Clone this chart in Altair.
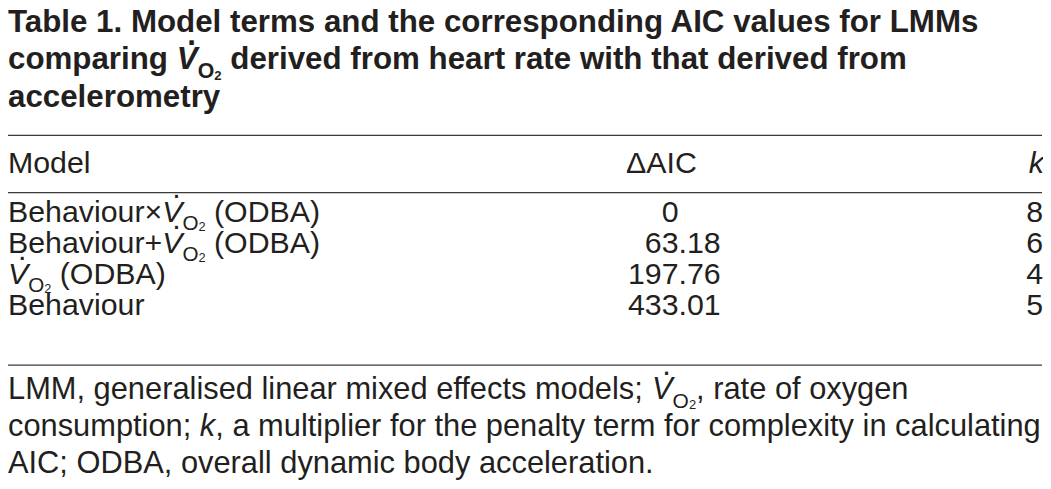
import re
import altair as alt
import pandas as pd

# ---------------- content ----------------
title_lines = [
    "Table 1. Model terms and the corresponding AIC values for LMMs",
    "comparing {VO2} derived from heart rate with that derived from",
    "accelerometry",
]
col_headers = ["Model", "ΔAIC", "{k}"]
models = [
    "Behaviour×{VO2} (ODBA)",
    "Behaviour+{VO2} (ODBA)",
    "{VO2} (ODBA)",
    "Behaviour",
]
delta_aic = [0, 63.18, 197.76, 433.01]
k_values = [8, 6, 4, 5]
footnote_lines = [
    "LMM, generalised linear mixed effects models; {VO2}, rate of oxygen",
    "consumption; {k}, a multiplier for the penalty term for complexity in calculating",
    "AIC; ODBA, overall dynamic body acceleration.",
]

# ---------------- layout (reference pixel space) ----------------
FONT = "Liberation Sans"
INK = "#231f20"
W, H = 1041, 473
X0, Y0 = 1.0, 1.0
SX = (W - 1) / 1049.0
SY = H / 485.0

TITLE_SIZE = 31.5
BODY_SIZE = 30.5
FOOT_SIZE = 31.0

title_base = [24, 63, 102]
rule_y = [131, 190, 368]
header_base = 170
row_base = [220, 252, 284, 316]
foot_base = [403, 441, 479]
col_model_x = 1
col_aic_head_x = 628
col_aic_right = 724
col_k_right = 1050


def cx(x):
    return (x - X0) * SX


def cy(y):
    return (y - Y0) * SY


REG = dict(zip("abcdefghijklmnopqrstuvwxyz",
               [556, 556, 500, 556, 556, 278, 556, 556, 222, 222, 500, 222, 833,
                556, 556, 556, 556, 333, 500, 278, 556, 500, 722, 500, 500, 500]))
REG.update(dict(zip("ABCDEFGHIJKLMNOPQRSTUVWXYZ",
                    [667, 667, 722, 722, 667, 611, 778, 722, 278, 500, 667, 556, 833,
                     722, 778, 667, 778, 722, 667, 611, 722, 667, 944, 667, 667, 611])))
REG.update({d: 556 for d in "0123456789"})
REG.update({" ": 278, ".": 278, ",": 278, ";": 278, ":": 278, "(": 333, ")": 333,
            "+": 584, "×": 584, "-": 333, "Δ": 668})
BOLD = dict(zip("abcdefghijklmnopqrstuvwxyz",
                [556, 611, 556, 611, 556, 333, 611, 611, 278, 278, 556, 278, 889,
                 611, 611, 611, 611, 389, 556, 333, 611, 556, 778, 556, 556, 500]))
BOLD.update(dict(zip("ABCDEFGHIJKLMNOPQRSTUVWXYZ",
                     [722, 722, 722, 722, 667, 611, 778, 722, 278, 556, 722, 611, 833,
                      722, 778, 667, 778, 722, 667, 611, 722, 667, 944, 667, 667, 611])))
BOLD.update({d: 556 for d in "0123456789"})
BOLD.update({" ": 278, ".": 278, ",": 278, ";": 333, ":": 333, "(": 333, ")": 333,
             "+": 584, "×": 584, "-": 333})


def tw(text, bold, size):
    table = BOLD if bold else REG
    return sum(table.get(ch, 556) for ch in text) / 1000.0 * size


segments = []


def add(text, x, y, size, style, align="left"):
    segments.append(dict(text=text, x=x, y=y, size=size, style=style, align=align))


def rich_line(line, x, y, size, bold=False):
    """Lay out a line with V-dot-O2 and italic k tokens, left aligned at x (chart px)."""
    base = "b" if bold else "n"
    ital = "bi" if bold else "i"
    for part in re.split(r"(\{VO2\}|\{k\})", line):
        if not part:
            continue
        if part == "{VO2}":
            add("V", x, y, size, ital)
            add(".", x + 0.47 * size, y - 0.79 * size, size, base, "center")
            x += 0.667 * size
            so = 0.68 * size
            add("O", x, y + 0.28 * size, so, base)
            x += 0.778 * so
            s2 = 0.42 * size
            add("2", x, y + 0.32 * size, s2, base)
            x += 0.556 * s2
        elif part == "{k}":
            add("k", x, y, size, ital)
            x += 0.5 * size
        else:
            # SVG drops leading/trailing blanks, so advance over them instead
            lead = len(part) - len(part.lstrip(" "))
            x += tw(" " * lead, bold, size)
            body = part.strip(" ")
            if body:
                add(body, x, y, size, base)
            x += tw(part[lead:], bold, size)
    return x


# title
for line, b in zip(title_lines, title_base):
    rich_line(line, cx(col_model_x), cy(b), TITLE_SIZE, bold=True)

# header row
rich_line(col_headers[0], cx(col_model_x), cy(header_base), BODY_SIZE)
rich_line(col_headers[1], cx(col_aic_head_x), cy(header_base), BODY_SIZE)
add("k", cx(col_k_right) + 2, cy(header_base), BODY_SIZE, "i", "right")

# body rows
for m, a, k, b in zip(models, delta_aic, k_values, row_base):
    rich_line(m, cx(col_model_x), cy(b), BODY_SIZE)
    if float(a).is_integer():
        label = str(int(a))
        xr = cx(col_aic_right) - tw(".00", False, BODY_SIZE)
    else:
        label = f"{a:.2f}"
        xr = cx(col_aic_right)
    add(label, xr, cy(b), BODY_SIZE, "n", "right")
    add(str(k), cx(col_k_right) + 1, cy(b), BODY_SIZE, "n", "right")

# footnote
for line, b in zip(footnote_lines, foot_base):
    rich_line(line, cx(col_model_x), cy(b), FOOT_SIZE)

seg_df = pd.DataFrame(segments)

rules_df = pd.DataFrame({
    "x1": [cx(1)] * len(rule_y),
    "x2": [cx(1050)] * len(rule_y),
    "y": [cy(v) for v in rule_y],
})

rules = alt.Chart(rules_df).mark_rule(color="#3a3a3a", strokeWidth=1.3).encode(
    x=alt.X("x1:Q", scale=None, axis=None),
    x2="x2:Q",
    y=alt.Y("y:Q", scale=None, axis=None),
)

layers = [rules]
style_map = {"n": ("normal", "normal"), "b": ("bold", "normal"),
             "i": ("normal", "italic"), "bi": ("bold", "italic")}
for (st, al), grp in seg_df.groupby(["style", "align"]):
    weight, fstyle = style_map[st]
    layers.append(
        alt.Chart(grp.reset_index(drop=True)).mark_text(
            font=FONT, fontWeight=weight, fontStyle=fstyle, align=al,
            baseline="alphabetic", color=INK,
        ).encode(
            x=alt.X("x:Q", scale=None, axis=None),
            y=alt.Y("y:Q", scale=None, axis=None),
            text=alt.Text("text:N"),
            size=alt.Size("size:Q", scale=None, legend=None),
        )
    )

chart = alt.layer(*layers).properties(
    width=W, height=H, padding=0, autosize=alt.AutoSizeParams(type="none"),
    background="white",
).configure_view(stroke=None)

chart.save("out.html", embed_options={"renderer": "svg", "actions": False})
